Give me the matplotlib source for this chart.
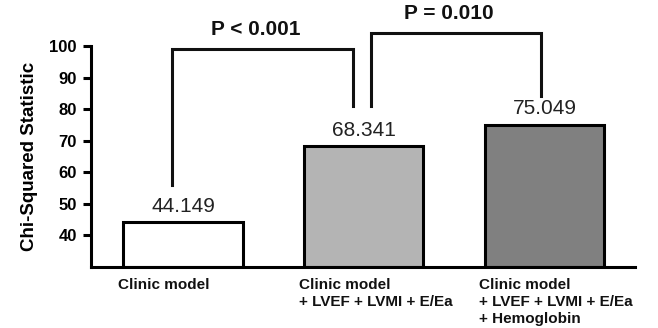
import matplotlib
matplotlib.use("Agg")
import matplotlib.pyplot as plt

plt.rcParams['font.family'] = ['Liberation Sans', 'DejaVu Sans']

# data
categories = ["Clinic model",
              "Clinic model\n+ LVEF + LVMI + E/Ea",
              "Clinic model\n+ LVEF + LVMI + E/Ea\n+ Hemoglobin"]
chi2 = [44.149, 68.341, 75.049]
value_labels = ["44.149", "68.341", "75.049"]
bar_colors = ["#ffffff", "#b4b4b4", "#808080"]
y_ticks = [40, 50, 60, 70, 80, 90, 100]

# comparison brackets: (left x, right x, top y, left leg end, right leg end, label)
brackets = [
    (-0.06, 0.94, 99.0, 56.0, 81.0, "P < 0.001"),
    (1.04, 1.98, 104.0, 81.0, 84.0, "P = 0.010"),
]

fig = plt.figure(figsize=(6.58, 3.28), dpi=100)
ax = fig.add_axes([0.138, 0.186, 0.827, 0.674])

x = range(len(chi2))
ax.bar(x, [v - 30 for v in chi2], bottom=30, width=0.66,
       color=bar_colors, edgecolor="black", linewidth=2.2, zorder=2)

for i, (v, s) in enumerate(zip(chi2, value_labels)):
    ax.text(i, v + 5, s, ha="center", va="center", fontsize=15, color="#222222")

for x0, x1, top, l_end, r_end, lab in brackets:
    ax.plot([x0, x0, x1, x1], [l_end, top, top, r_end], color="#111111",
            linewidth=2.2, clip_on=False, solid_joinstyle="miter")
    ax.text((x0 + x1) / 2 - 0.04, top + 3.3, lab, ha="center", va="bottom",
            fontsize=15, fontweight="bold", color="#111111")

ax.set_xlim(-0.51, 2.5)
ax.set_ylim(30, 100)
ax.set_yticks(y_ticks)
ax.set_yticklabels([str(t) for t in y_ticks], fontsize=12, fontweight="bold")
ax.set_xticks([])

for i, cat in enumerate(categories):
    ax.text(i - 0.36, -0.05, cat, transform=ax.get_xaxis_transform(),
            ha="left", va="top", fontsize=11, fontweight="bold",
            linespacing=1.25, color="#111111")

ax.set_ylabel("Chi-Squared Statistic", fontsize=13.5, fontweight="bold", labelpad=8)

for side in ["top", "right"]:
    ax.spines[side].set_visible(False)
for side in ["left", "bottom"]:
    ax.spines[side].set_linewidth(2.2)
ax.tick_params(axis="y", width=2.2, length=6, pad=4)

fig.savefig("out.png", dpi=100)
